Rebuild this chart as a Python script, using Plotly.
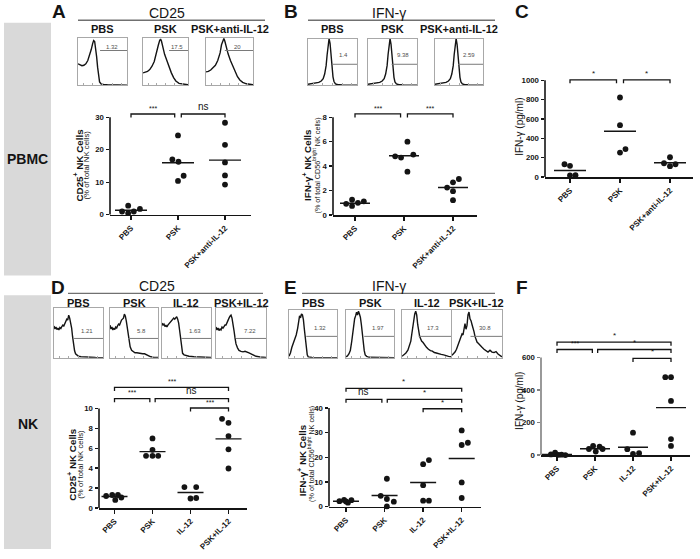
import plotly.graph_objects as go

W, H = 700, 559
FONT = "Arial, Liberation Sans, Helvetica, sans-serif"
INK = "#141414"
BOXC = "#a8a8a8"

# ===================== DATA =====================
# ---- Panel A : PBMC, CD25+ NK cells (% of total NK cells)
a_categories = ["PBS", "PSK", "PSK+anti-IL-12"]
a_pbs = [1.0, 2.8, 0.5, 1.0, 1.8]
a_psk = [24.4, 17.0, 16.3, 10.4, 12.0]
a_anti = [28.3, 21.5, 16.1, 12.1, 9.3]
a_means = [1.4, 16.0, 16.8]
a_yticks = [0, 10, 20, 30]
a_sig = [(0, 1, "***"), (1, 2, "ns")]
a_sig_levels = [31.0, 31.0]

# ---- Panel B : PBMC, IFN-g+ NK cells (% of CD56bright NK cells)
b_categories = ["PBS", "PSK", "PSK+anti-IL-12"]
b_pbs = [0.92, 1.25, 0.75, 1.0, 1.12]
b_psk = [6.0, 4.8, 4.7, 4.95, 3.55]
b_anti = [2.25, 1.95, 2.95, 2.68, 1.22]
b_means = [0.97, 4.85, 2.25]
b_yticks = [0, 2, 4, 6, 8]
b_sig = [(0, 1, "***"), (1, 2, "***")]
b_sig_levels = [8.27, 8.27]

# ---- Panel C : PBMC, IFN-g (pg/ml)
c_categories = ["PBS", "PSK", "PSK+anti-IL-12"]
c_pbs = [133, 116, 17, 20]
c_psk = [822, 536, 253, 290]
c_anti = [205, 143, 113, 133]
c_means = [68, 474, 148]
c_yticks = [0, 200, 400, 600, 800, 1000]
c_sig = [(0, 1, "*"), (1, 2, "*")]
c_sig_levels = [1005, 1005]

# ---- Panel D : NK, CD25+ NK cells (% of total NK cells)
d_categories = ["PBS", "PSK", "IL-12", "PSK+IL-12"]
d_pbs = [1.2, 1.3, 0.8, 1.3, 1.05]
d_psk = [7.0, 5.85, 5.25, 5.25, 5.25]
d_il12 = [2.1, 2.1, 0.95, 1.0]
d_pskil12 = [8.97, 8.57, 7.23, 5.9, 3.97]
d_means = [1.15, 5.67, 1.55, 6.95]
d_yticks = [0, 2, 4, 6, 8, 10]
d_sig = [(0, 1, "***"), (1, 3, "ns"), (2, 3, "***"), (0, 3, "***")]
d_sig_levels = [11.0, 11.0, 10.06, 12.13]

# ---- Panel E : NK, IFN-g+ NK cells (% of CD56bright NK cells)
e_categories = ["PBS", "PSK", "IL-12", "PSK+IL-12"]
e_pbs = [2.2, 2.7, 1.6, 2.6, 2.1]
e_psk = [11.3, 4.4, 3.1, 2.0, 0.1]
e_il12 = [17.2, 18.9, 8.7, 2.4, 2.4]
e_pskil12 = [30.9, 25.0, 25.9, 9.8, 3.5]
e_means = [2.2, 4.5, 9.8, 19.5]
e_yticks = [0, 10, 20, 30, 40]
e_sig = [(0, 1, "ns"), (1, 3, "*"), (2, 3, "*"), (0, 3, "*")]
e_sig_levels = [43.5, 43.5, 39.7, 48.0]

# ---- Panel F : NK, IFN-g (pg/ml)
f_categories = ["PBS", "PSK", "IL-12", "PSK+IL-12"]
f_pbs = [5, 16, 2, 3, 1]
f_psk = [38, 57, 53, 22, 38]
f_il12 = [138, 37, 8, 12]
f_pskil12 = [479, 479, 333, 99, 57]
f_means = [5, 40, 49, 292]
f_yticks = [0, 200, 400, 600]
f_sig = [(0, 1, "***"), (1, 3, "*"), (2, 3, "*"), (0, 3, "*")]
f_sig_levels = [649, 649, 594, 694]

# horizontal spread of the dots inside each column (category units)
a_jitter = [[-0.19, -0.06, -0.06, 0.06, 0.19], [0.0, -0.12, 0.01, 0.0, 0.12], [0, 0, 0, 0, 0]]
b_jitter = [[-0.18, -0.06, -0.06, 0.06, 0.18], [0.07, -0.18, -0.06, 0.19, 0.07], [-0.12, 0, 0.12, 0, 0]]
c_jitter = [[-0.11, 0.0, 0.0, 0.11], [0, 0, 0, 0.11], [0, -0.12, 0, 0.11]]
d_jitter = [[-0.22, -0.06, 0.02, 0.09, 0.18], [0, 0, -0.17, 0, 0.15], [-0.16, 0.15, 0, 0.15], [-0.17, 0, 0, 0, 0]]
e_jitter = [[-0.17, -0.05, 0.05, 0.14, 0.0], [0.06, -0.1, 0.06, 0.24, 0.06], [0, 0.15, 0, 0, 0.15], [0, 0, 0.16, 0, 0]]
f_jitter = [[-0.16, -0.05, 0.04, 0.12, 0.22], [-0.16, -0.05, 0.12, 0.02, 0.2], [0, -0.15, 0, 0.16], [-0.15, 0, 0, 0, 0]]

# ---- flow histograms (x: % of plot width, y: % of max count)
h_a_pbs_x = [0, 4, 8, 12, 16, 20, 24, 27, 30, 32, 34, 36, 38, 40, 42, 44, 47, 52, 60, 75, 100]
h_a_pbs_y = [45, 43, 41, 42, 45, 52, 63, 75, 88, 94, 92, 80, 60, 38, 18, 7, 3, 1.5, 1, 0.5, 0.3]
h_a_psk_x = [0, 5, 10, 15, 20, 25, 30, 34, 37, 39, 41, 44, 48, 53, 58, 63, 68, 73, 80, 90, 100]
h_a_psk_y = [26, 27, 29, 33, 40, 50, 66, 84, 94, 97, 93, 80, 65, 52, 38, 26, 16, 9, 4, 2, 1]
h_a_anti_x = [0, 5, 10, 15, 20, 25, 30, 33, 36, 38, 40, 43, 47, 52, 57, 62, 67, 72, 78, 86, 100]
h_a_anti_y = [28, 29, 32, 36, 42, 52, 68, 85, 95, 98, 93, 80, 66, 52, 40, 28, 18, 11, 6, 3, 1]
a_gate_start = [45, 58, 40]
a_gate_text = ["1.32", "17.5", "20"]

h_b_pbs_x = [0, 8, 16, 22, 27, 31, 34, 37, 39, 41, 43, 45, 47, 49, 51, 53, 56, 60, 70, 100]
h_b_pbs_y = [2, 3, 4, 6, 9, 14, 24, 42, 65, 88, 100, 90, 65, 38, 18, 8, 3, 1.5, 0.5, 0.3]
h_b_psk_x = [0, 8, 16, 24, 29, 33, 36, 39, 41, 43, 45, 47, 49, 51, 53, 55, 58, 62, 72, 100]
h_b_psk_y = [2, 3, 4, 6, 9, 14, 24, 42, 66, 90, 100, 88, 62, 36, 17, 7, 3, 1.5, 0.5, 0.3]
h_b_anti_x = [0, 8, 16, 23, 28, 32, 35, 38, 40, 42, 44, 46, 48, 50, 52, 54, 57, 61, 71, 100]
h_b_anti_y = [2, 3, 4, 6, 9, 14, 24, 42, 66, 90, 100, 88, 62, 36, 17, 7, 3, 1.5, 0.5, 0.3]
b_gate_start = [49, 48, 48]
b_gate_text = ["1.4", "9.38", "2.59"]

h_d_pbs_x = [0, 2, 4, 6, 8, 10, 12, 14, 16, 18, 20, 22, 24, 26, 28, 30, 32, 34, 36, 38, 40, 42, 44, 47, 50, 55, 60, 70, 85, 100]
h_d_pbs_y = [64, 58, 62, 57, 60, 56, 61, 59, 63, 66, 64, 70, 74, 78, 76, 86, 80, 72, 60, 42, 25, 14, 8, 5, 3, 2, 1.5, 1, 0.5, 0.3]
h_d_psk_x = [0, 2, 4, 6, 8, 10, 12, 14, 16, 18, 20, 22, 24, 26, 28, 30, 32, 34, 36, 38, 40, 42, 45, 48, 52, 56, 60, 64, 68, 72, 76, 80, 85, 90, 100]
h_d_psk_y = [66, 58, 62, 56, 60, 57, 62, 60, 65, 68, 66, 72, 76, 78, 80, 88, 84, 74, 60, 45, 32, 22, 15, 12, 10, 10, 9, 9, 8, 8, 6, 4, 2, 1, 0.5]
h_d_il12_x = [0, 2, 4, 6, 8, 10, 12, 14, 16, 18, 20, 22, 24, 26, 28, 30, 32, 34, 36, 38, 40, 42, 45, 50, 55, 65, 80, 100]
h_d_il12_y = [70, 66, 68, 63, 66, 62, 66, 68, 70, 72, 75, 77, 80, 78, 82, 83, 78, 70, 55, 35, 18, 9, 6, 4, 3, 2, 1, 0.5]
h_d_pskil12_x = [0, 2, 4, 6, 8, 10, 12, 14, 16, 18, 20, 22, 24, 26, 28, 30, 32, 34, 36, 38, 40, 43, 46, 50, 54, 58, 62, 66, 70, 75, 80, 88, 100]
h_d_pskil12_y = [62, 56, 60, 55, 58, 56, 62, 60, 63, 66, 66, 72, 76, 80, 84, 86, 80, 70, 55, 40, 28, 20, 15, 13, 12, 13, 12, 10, 8, 5, 3, 1.5, 0.5]
d_gate_start = [41, 38, 39, 40]
d_gate_text = ["1.21", "5.8", "1.63", "7.22"]

h_e_pbs_x = [0, 3, 6, 9, 12, 15, 18, 20, 22, 24, 26, 28, 30, 32, 34, 36, 38, 40, 43, 48, 60, 100]
h_e_pbs_y = [3, 10, 22, 30, 40, 48, 62, 80, 88, 84, 92, 90, 80, 60, 40, 20, 6, 2, 1, 0.5, 0.3, 0.2]
h_e_psk_x = [0, 3, 6, 9, 12, 14, 16, 18, 20, 22, 24, 26, 28, 30, 32, 34, 36, 38, 40, 43, 48, 60, 100]
h_e_psk_y = [2, 4, 8, 15, 35, 55, 70, 82, 88, 96, 90, 98, 92, 85, 70, 50, 30, 15, 6, 3, 1, 0.5, 0.3]
h_e_il12_x = [0, 4, 8, 12, 16, 18, 20, 22, 24, 26, 28, 30, 32, 34, 36, 38, 40, 43, 46, 50, 54, 58, 62, 66, 70, 75, 80, 85, 90, 95, 100]
h_e_il12_y = [3, 6, 10, 16, 26, 35, 50, 65, 80, 92, 98, 90, 70, 55, 45, 40, 35, 32, 27, 22, 18, 15, 14, 11, 10, 8, 7, 6, 4, 3, 2]
h_e_pskil12_x = [0, 3, 6, 9, 12, 15, 18, 20, 22, 24, 26, 28, 30, 32, 34, 36, 38, 40, 42, 44, 46, 48, 50, 53, 56, 60, 64, 68, 72, 76, 80, 84, 88, 92, 96, 100]
h_e_pskil12_y = [5, 8, 12, 18, 28, 38, 44, 50, 48, 58, 72, 60, 68, 90, 96, 82, 78, 70, 64, 55, 45, 40, 33, 30, 26, 22, 18, 14, 12, 16, 12, 11, 13, 8, 4, 2]
e_gate_start = [36, 38, 34, 37]
e_gate_text = ["1.32", "1.97", "17.3", "30.8"]

# ===================== LAYOUT HELPERS =====================
fig = go.Figure()
layout = {}
shapes = []
annots = []


def px_x(p):
    return p / W


def px_y(p):
    return 1 - p / H


def names(i):
    return ("x" if i == 1 else f"x{i}", "y" if i == 1 else f"y{i}")


def keys(i):
    return ("xaxis" if i == 1 else f"xaxis{i}", "yaxis" if i == 1 else f"yaxis{i}")


def text(x, y, s, size, bold=False, color=INK, angle=0, xanchor="center", yanchor="middle"):
    annots.append(dict(x=px_x(x), y=px_y(y), xref="paper", yref="paper", text=s, showarrow=False,
                       textangle=angle, xanchor=xanchor, yanchor=yanchor, borderpad=0,
                       font=dict(family=FONT, size=size, color=color, weight="bold" if bold else "normal")))


def scatter_panel(i, cats, groups, jitter, means, yticks, sig, levels, spec):
    xn, yn = names(i)
    xk, yk = keys(i)
    n = len(cats)
    xl, xr = spec["xdom"]
    c0, c1 = spec["cats_px"]
    sx = (n - 1) / (c1 - c0)
    zero_px = spec["zero_px"]
    tv, tpx = spec["tick_px"]
    sy = tv / (zero_px - tpx)
    layout[xk] = dict(domain=[px_x(xl), px_x(xr)], range=[(xl - c0) * sx, (xr - c0) * sx], anchor=yn,
                      tickmode="array", tickvals=list(range(n)), ticktext=cats, tickangle=-45,
                      ticks="outside", ticklen=4, tickwidth=1.4, tickcolor=INK,
                      showline=True, linecolor=INK, linewidth=1.6, showgrid=False, zeroline=False,
                      tickfont=dict(family=FONT, size=8, color=INK, weight="bold"), fixedrange=True)
    layout[yk] = dict(domain=[px_y(zero_px), px_y(spec["top_px"])], range=[0, (zero_px - spec["top_px"]) * sy],
                      anchor=xn, tickmode="array", tickvals=yticks, ticks="outside", ticklen=3.5, tickwidth=1.4,
                      tickcolor=spec.get("ycol", INK), showline=False, showgrid=False, zeroline=False,
                      tickfont=dict(family=FONT, size=7.8, color=INK, weight="bold"), fixedrange=True)
    # y-axis line from 0 to the top tick
    shapes.append(dict(type="line", xref=f"{xn} domain", x0=0, x1=0, yref=yn, y0=0, y1=yticks[-1],
                       line=dict(color=spec.get("ycol", INK), width=1.6)))
    # dots
    xs, ys = [], []
    for k, (vals, jit) in enumerate(zip(groups, jitter)):
        for v, j in zip(vals, jit):
            xs.append(k + j)
            ys.append(v)
    fig.add_trace(go.Scatter(x=xs, y=ys, mode="markers", xaxis=xn, yaxis=yn, cliponaxis=False,
                             marker=dict(size=5.8, color=INK), showlegend=False, hoverinfo="skip"))
    # mean lines
    hw = spec["hw_px"] * sx
    mx, my = [], []
    for k, m in enumerate(means):
        mx += [k - hw, k + hw, None]
        my += [m, m, None]
    fig.add_trace(go.Scatter(x=mx, y=my, mode="lines", xaxis=xn, yaxis=yn, line=dict(color=INK, width=1.4),
                             showlegend=False, hoverinfo="skip"))
    # significance brackets
    tick = 3.5 * sy
    gap = 0.07
    for (a, b, label), lev in zip(sig, levels):
        x0, x1 = float(a), float(b)
        for (a2, b2, _), lev2 in zip(sig, levels):
            if lev2 == lev and b2 == a:
                x0 += gap
            if lev2 == lev and a2 == b:
                x1 -= gap
        shapes.append(dict(type="path", xref=xn, yref=yn,
                           path=f"M {x0},{lev - tick} L {x0},{lev} L {x1},{lev} L {x1},{lev - tick}",
                           line=dict(color=INK, width=1.3)))
        is_ns = label == "ns"
        annots.append(dict(x=(x0 + x1) / 2, y=lev + 1.2 * sy, xref=xn, yref=yn, text=label, showarrow=False,
                           yanchor="bottom", borderpad=0,
                           font=dict(family=FONT, size=10 if is_ns else (7 if len(label) > 1 else 8), color=INK)))


def hist_panel(i, hx, hy, box, gate_start, gate_frac, gate_label, label_frac, top_label, top_label_y):
    xn, yn = names(i)
    xk, yk = keys(i)
    x0, x1, top, bot = box
    layout[xk] = dict(domain=[px_x(x0), px_x(x1)], range=[0, 100], anchor=yn, showline=True, mirror=True,
                      linecolor=BOXC, linewidth=1, ticks="inside", ticklen=2, tickcolor=BOXC,
                      tickvals=[12, 30, 50, 70, 88], showticklabels=False, showgrid=False, zeroline=False,
                      fixedrange=True)
    layout[yk] = dict(domain=[px_y(bot), px_y(top)], range=[0, 100], anchor=xn, showline=True, mirror=True,
                      linecolor=BOXC, linewidth=1, ticks="", showticklabels=False, showgrid=False,
                      zeroline=False, fixedrange=True)
    fig.add_trace(go.Scatter(x=hx, y=hy, mode="lines", xaxis=xn, yaxis=yn, line=dict(color=INK, width=1.4),
                             showlegend=False, hoverinfo="skip"))
    shapes.append(dict(type="line", xref=xn, yref=yn, x0=gate_start, x1=100, y0=gate_frac, y1=gate_frac,
                       line=dict(color="#7a7a7a", width=1)))
    annots.append(dict(x=(gate_start + 100) / 2 - 3, y=label_frac, xref=xn, yref=yn, text=gate_label,
                       showarrow=False, font=dict(family=FONT, size=6, color="#505050")))
    text((x0 + x1) / 2, top_label_y, top_label, 11, bold=True)


# ===================== BUILD =====================
# grey row panels
for (t, b, lab, ly) in [(23, 278, "PBMC", 160), (298, 554, "NK", 428)]:
    shapes.append(dict(type="rect", xref="paper", yref="paper", x0=px_x(4), x1=px_x(51), y0=px_y(b), y1=px_y(t),
                       fillcolor="#d9d9d9", line=dict(width=0), layer="below"))
    text(27.5, ly, lab, 14, bold=True)

# panel letters
for lab, x, y in [("A", 58.5, 12), ("B", 291, 12), ("C", 522, 12), ("D", 57.5, 290), ("E", 290, 290), ("F", 522, 290)]:
    text(x, y, lab, 19, bold=True)

# marker titles with underline
for lab, tx, ty, ux0, ux1, uy in [("CD25", 167, 13, 78, 265, 20.5), ("IFN-γ", 389, 13, 308, 495, 20.5),
                                  ("CD25", 157, 289, 68, 263, 296), ("IFN-γ", 389, 289, 302, 495, 296)]:
    text(tx, ty, lab, 14)
    shapes.append(dict(type="line", xref="paper", yref="paper", x0=px_x(ux0), x1=px_x(ux1), y0=px_y(uy),
                       y1=px_y(uy), line=dict(color="#707070", width=1.4)))

# scatter panels
scatter_panel(1, a_categories, [a_pbs, a_psk, a_anti], a_jitter, a_means, a_yticks, a_sig, a_sig_levels,
              dict(xdom=(110, 251), cats_px=(131, 225), zero_px=216.7, tick_px=(30, 118.3), top_px=96, hw_px=16))
scatter_panel(2, b_categories, [b_pbs, b_psk, b_anti], b_jitter, b_means, b_yticks, b_sig, b_sig_levels,
              dict(xdom=(333, 477), cats_px=(355, 453), zero_px=217, tick_px=(8, 118.3), top_px=96, hw_px=15))
scatter_panel(3, c_categories, [c_pbs, c_psk, c_anti], c_jitter, c_means, c_yticks, c_sig, c_sig_levels,
              dict(xdom=(545, 693), cats_px=(570, 670), zero_px=178.7, tick_px=(1000, 81), top_px=62, hw_px=16))
scatter_panel(4, d_categories, [d_pbs, d_psk, d_il12, d_pskil12], d_jitter, d_means, d_yticks, d_sig, d_sig_levels,
              dict(xdom=(99, 247), cats_px=(114.5, 228.5), zero_px=512.5, tick_px=(10, 412.3), top_px=372, hw_px=13))
scatter_panel(5, e_categories, [e_pbs, e_psk, e_il12, e_pskil12], e_jitter, e_means, e_yticks, e_sig, e_sig_levels,
              dict(xdom=(329, 481), cats_px=(346, 461.7), zero_px=511.2, tick_px=(40, 411.7), top_px=372, hw_px=13))
scatter_panel(6, f_categories, [f_pbs, f_psk, f_il12, f_pskil12], f_jitter, f_means, f_yticks, f_sig, f_sig_levels,
              dict(xdom=(541, 690), cats_px=(557, 671), zero_px=459.3, tick_px=(600, 360.7), top_px=330, hw_px=15,
                   ycol="#808080"))

# y-axis titles
text(78, 167, "CD25<sup>+</sup> NK Cells", 9.8, bold=True, angle=-90)
text(87, 167, "(% of total NK cells)", 7.8, angle=-90)
text(306.5, 167, "IFN-γ<sup>+</sup> NK Cells", 9.8, bold=True, angle=-90)
text(316, 167, "(% of total CD56<sup>bright</sup> NK cells)", 7.2, angle=-90)
text(520, 128, "IFN-γ (pg/ml)", 10, angle=-90)
text(72, 469, "CD25<sup>+</sup> NK Cells", 9.8, bold=True, angle=-90)
text(81, 469, "(% of total NK cells)", 7.8, angle=-90)
text(301.5, 465, "IFN-γ<sup>+</sup> NK Cells", 9.8, bold=True, angle=-90)
text(311, 458, "(% of total CD56<sup>bright</sup> NK cells)", 7.2, angle=-90)
text(519.5, 405, "IFN-γ (pg/ml)", 10, angle=-90)

# histograms
idx = 7
for hx, hy, box, gs, gl, lab in zip([h_a_pbs_x, h_a_psk_x, h_a_anti_x], [h_a_pbs_y, h_a_psk_y, h_a_anti_y],
                                    [(78, 127, 38, 86), (143, 188, 38, 86), (206, 253, 38, 86)],
                                    a_gate_start, a_gate_text, a_categories):
    hist_panel(idx, hx, hy, box, gs, 73, gl, 80, lab, 29)
    idx += 1
for hx, hy, box, gs, gl, lab in zip([h_b_pbs_x, h_b_psk_x, h_b_anti_x], [h_b_pbs_y, h_b_psk_y, h_b_anti_y],
                                    [(308, 357, 39, 86), (368, 417, 39, 86), (435, 483, 39, 86)],
                                    b_gate_start, b_gate_text, b_categories):
    hist_panel(idx, hx, hy, box, gs, 45, gl, 65, lab, 29)
    idx += 1
for hx, hy, box, gs, gl, lab in zip([h_d_pbs_x, h_d_psk_x, h_d_il12_x, h_d_pskil12_x],
                                    [h_d_pbs_y, h_d_psk_y, h_d_il12_y, h_d_pskil12_y],
                                    [(54, 103, 311, 361), (110, 158, 311, 361), (162, 211, 311, 361), (216, 266, 311, 361)],
                                    d_gate_start, d_gate_text, d_categories):
    hist_panel(idx, hx, hy, box, gs, 39, gl, 54, lab, 306)
    idx += 1
for hx, hy, box, gs, gl, lab in zip([h_e_pbs_x, h_e_psk_x, h_e_il12_x, h_e_pskil12_x],
                                    [h_e_pbs_y, h_e_psk_y, h_e_il12_y, h_e_pskil12_y],
                                    [(289, 337, 313, 361), (346, 394, 313, 361), (402, 451, 313, 361), (452, 502, 313, 361)],
                                    e_gate_start, e_gate_text, e_categories):
    hist_panel(idx, hx, hy, box, gs, 45, gl, 62, lab, 306)
    idx += 1

fig.update_layout(width=W, height=H, margin=dict(l=0, r=0, t=0, b=0), paper_bgcolor="white",
                  plot_bgcolor="rgba(0,0,0,0)", showlegend=False, shapes=shapes, annotations=annots,
                  font=dict(family=FONT, color=INK), **layout)

fig.write_html("out.html", config={"displayModeBar": False, "staticPlot": True},
               post_script="document.body.style.margin='0';document.body.style.overflow='hidden';")
